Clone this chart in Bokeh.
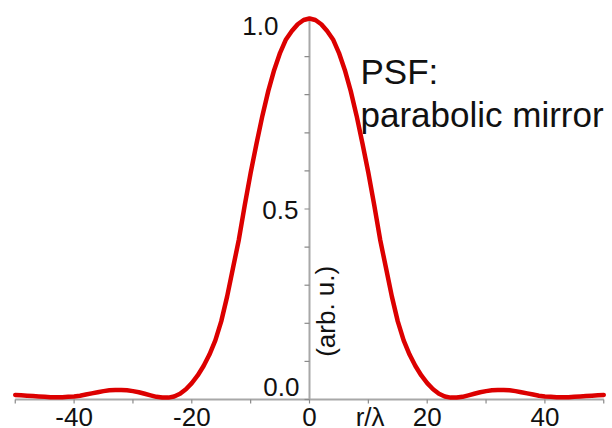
from bokeh.plotting import figure
from bokeh.models import Range1d, ColumnDataSource
from bokeh.embed import file_html
from bokeh.resources import INLINE
from bokeh.core.properties import value

# Radial point-spread function of a parabolic mirror (normalised intensity)
r_over_lambda = list(range(-50, 51))
intensity = [
    0.012, 0.011, 0.010, 0.009, 0.008, 0.007, 0.006, 0.006, 0.006, 0.007,  # -50..-41
    0.008, 0.010, 0.013, 0.016, 0.019, 0.022, 0.024, 0.025, 0.025, 0.024,  # -40..-31
    0.022, 0.019, 0.015, 0.011, 0.007, 0.005, 0.005, 0.008, 0.015, 0.027,  # -30..-21
    0.043, 0.063, 0.088, 0.118, 0.155, 0.205, 0.270, 0.345, 0.420, 0.510,  # -20..-11
    0.595, 0.672, 0.745, 0.810, 0.865, 0.910, 0.945, 0.967, 0.985, 0.996,  # -10..-1
    1.000,                                                                  # 0
    0.996, 0.985, 0.967, 0.945, 0.910, 0.865, 0.810, 0.745, 0.672, 0.595,  # 1..10
    0.510, 0.420, 0.345, 0.270, 0.205, 0.155, 0.118, 0.088, 0.063, 0.043,  # 11..20
    0.027, 0.015, 0.008, 0.005, 0.005, 0.007, 0.011, 0.015, 0.019, 0.022,  # 21..30
    0.024, 0.025, 0.025, 0.024, 0.022, 0.019, 0.016, 0.013, 0.010, 0.008,  # 31..40
    0.007, 0.006, 0.006, 0.006, 0.007, 0.008, 0.009, 0.010, 0.011, 0.012,  # 41..50
]

x_ticks = [-50, -40, -30, -20, -10, 0, 10, 20, 30, 40, 50]
x_label_values = [-40, -20, 0, 20, 40]
x_labels = ["-40", "-20", "0", "20", "40"]
y_ticks = [0.0, 0.1, 0.2, 0.3, 0.4, 0.5, 0.6, 0.7, 0.8, 0.9, 1.0]
y_label_values = [0.0, 0.5, 1.0]
y_labels = ["0.0", "0.5", "1.0"]

W, H = 612, 428
PX_X = 5.885   # pixels per unit of r/lambda
PX_Y = 381.0   # pixels per unit of intensity
X0_PX, Y0_PX = 309.0, 399.0  # screen position of the origin

FONT = value("Liberation Sans")
INK = "#111111"
AXIS_GRAY = "#a8a8a8"
TICK_GRAY = "#8a8a8a"

p = figure(width=W, height=H, output_backend="svg", toolbar_location=None,
           x_axis_type=None, y_axis_type=None, min_border=0,
           x_range=Range1d(-X0_PX / PX_X, (W - X0_PX) / PX_X),
           y_range=Range1d(-(H - Y0_PX) / PX_Y, Y0_PX / PX_Y))
p.outline_line_color = None
p.grid.visible = False
p.background_fill_color = "white"
p.border_fill_color = "white"

# axes crossing at the origin
p.segment(x0=[x_ticks[0]], y0=[0], x1=[x_ticks[-1]], y1=[0],
          line_color=AXIS_GRAY, line_width=2)
p.segment(x0=[0], y0=[y_ticks[0]], x1=[0], y1=[y_ticks[-1]],
          line_color=AXIS_GRAY, line_width=2)

# tick marks: below the x axis, left of the y axis
p.segment(x0=x_ticks, y0=[0] * len(x_ticks), x1=x_ticks,
          y1=[-4 / PX_Y] * len(x_ticks), line_color=TICK_GRAY, line_width=1.2)
p.segment(x0=[0] * len(y_ticks), y0=y_ticks, x1=[-5 / PX_X] * len(y_ticks),
          y1=y_ticks, line_color=TICK_GRAY, line_width=1.2)

# the PSF curve
p.line(r_over_lambda, intensity, line_color="#dc0000", line_width=4.5,
       line_join="round", line_cap="round")

# tick labels
xsrc = ColumnDataSource(dict(x=x_label_values, y=[0] * len(x_label_values),
                             text=x_labels))
p.text(x="x", y="y", text="text", source=xsrc, text_font=FONT,
       text_font_size="26px", text_color=INK, text_align="center",
       text_baseline="alphabetic", y_offset=17)

ysrc = ColumnDataSource(dict(x=[0] * len(y_label_values), y=y_label_values,
                             text=y_labels, xo=[-10, -11, -31],
                             yo=[-12.8, 1.2, 7.5]))
p.text(x="x", y="y", text="text", source=ysrc, text_font=FONT,
       text_font_size="26px", text_color=INK, text_align="right",
       text_baseline="alphabetic", x_offset="xo", y_offset="yo")

# axis titles
p.text(x=[10.3], y=[0], text=["r/λ"], text_font=FONT, text_font_size="26px",
       text_color=INK, text_align="center", text_baseline="alphabetic",
       y_offset=17)
p.text(x=[0], y=[0.2315], text=["(arb. u.)"], text_font=FONT,
       text_font_size="26px", text_color=INK, text_align="center",
       text_baseline="middle", angle=1.5708, x_offset=16)

# annotation
p.text(x=[0, 0], y=[0, 0], text=["PSF:", "parabolic mirror"], text_font=FONT,
       text_font_size="35px", text_color=INK, text_align="left",
       text_baseline="alphabetic", x_offset=[51, 51], y_offset=[-328, -284.6])

open("out.html", "w").write(file_html(p, INLINE))
